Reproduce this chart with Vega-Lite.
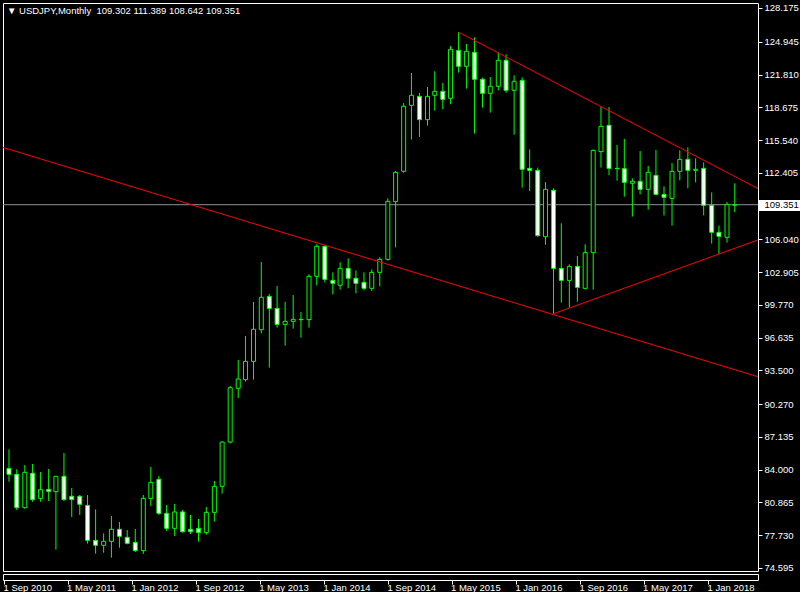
{
  "$schema": "https://vega.github.io/schema/vega-lite/v6.json",
  "background": "black",
  "padding": {"left": 2, "top": 2, "right": 0, "bottom": 0},
  "config": {"view": {"stroke": "white", "strokeWidth": 1}, "font": "Liberation Sans", "axis": {"labelOverlap": false, "labelFlush": false, "labelBound": false}},
  "datasets": {
    "candles": [
      {"d":"2010-09-01","o":84.12,"h":85.94,"l":82.85,"c":83.55},
      {"d":"2010-10-01","o":83.55,"h":84.03,"l":80.14,"c":80.36},
      {"d":"2010-11-01","o":80.36,"h":84.44,"l":80.26,"c":83.74},
      {"d":"2010-12-01","o":83.65,"h":84.54,"l":80.93,"c":81.13},
      {"d":"2011-01-01","o":81.25,"h":83.77,"l":80.93,"c":82.08},
      {"d":"2011-02-01","o":82.11,"h":84.06,"l":81.0,"c":81.92},
      {"d":"2011-03-01","o":81.89,"h":83.4,"l":76.34,"c":83.36},
      {"d":"2011-04-01","o":83.36,"h":85.59,"l":81.0,"c":81.13},
      {"d":"2011-05-01","o":81.45,"h":82.24,"l":79.47,"c":81.13},
      {"d":"2011-06-01","o":81.45,"h":81.57,"l":79.66,"c":80.68},
      {"d":"2011-07-01","o":80.58,"h":81.57,"l":76.92,"c":77.23},
      {"d":"2011-08-01","o":77.23,"h":80.2,"l":75.96,"c":76.76},
      {"d":"2011-09-01","o":76.76,"h":77.9,"l":76.05,"c":77.14},
      {"d":"2011-10-01","o":77.14,"h":79.56,"l":75.58,"c":78.29},
      {"d":"2011-11-01","o":78.29,"h":78.99,"l":76.53,"c":77.62},
      {"d":"2011-12-01","o":77.52,"h":78.22,"l":76.85,"c":76.95},
      {"d":"2012-01-01","o":77.04,"h":78.32,"l":76.12,"c":76.25},
      {"d":"2012-02-01","o":76.25,"h":81.57,"l":75.93,"c":81.25},
      {"d":"2012-03-01","o":81.25,"h":84.25,"l":80.52,"c":82.78},
      {"d":"2012-04-01","o":83.07,"h":83.39,"l":79.66,"c":79.82},
      {"d":"2012-05-01","o":79.82,"h":80.62,"l":78.13,"c":78.38},
      {"d":"2012-06-01","o":78.38,"h":80.71,"l":77.65,"c":79.95},
      {"d":"2012-07-01","o":79.95,"h":80.14,"l":77.97,"c":78.06},
      {"d":"2012-08-01","o":78.29,"h":79.66,"l":77.84,"c":78.06},
      {"d":"2012-09-01","o":78.38,"h":79.28,"l":77.11,"c":77.97},
      {"d":"2012-10-01","o":77.97,"h":80.42,"l":77.78,"c":79.91},
      {"d":"2012-11-01","o":79.91,"h":82.91,"l":79.02,"c":82.4},
      {"d":"2012-12-01","o":82.4,"h":86.7,"l":81.7,"c":86.64},
      {"d":"2013-01-01","o":86.64,"h":92.0,"l":86.5,"c":91.84},
      {"d":"2013-02-01","o":91.78,"h":94.49,"l":90.85,"c":92.67},
      {"d":"2013-03-01","o":92.61,"h":96.79,"l":92.42,"c":94.36},
      {"d":"2013-04-01","o":94.36,"h":100.04,"l":92.61,"c":97.43},
      {"d":"2013-05-01","o":97.39,"h":103.87,"l":97.04,"c":100.49},
      {"d":"2013-06-01","o":100.58,"h":100.81,"l":93.76,"c":99.43},
      {"d":"2013-07-01","o":99.43,"h":101.57,"l":97.58,"c":97.9},
      {"d":"2013-08-01","o":97.9,"h":100.04,"l":95.86,"c":98.19},
      {"d":"2013-09-01","o":98.19,"h":100.71,"l":97.49,"c":98.38},
      {"d":"2013-10-01","o":98.38,"h":99.08,"l":96.63,"c":98.35},
      {"d":"2013-11-01","o":98.35,"h":102.69,"l":97.58,"c":102.5},
      {"d":"2013-12-01","o":102.5,"h":105.56,"l":101.64,"c":105.37},
      {"d":"2014-01-01","o":105.37,"h":105.44,"l":101.92,"c":102.21},
      {"d":"2014-02-01","o":102.11,"h":102.88,"l":100.77,"c":101.83},
      {"d":"2014-03-01","o":101.64,"h":103.84,"l":101.22,"c":103.26},
      {"d":"2014-04-01","o":103.26,"h":104.22,"l":101.35,"c":102.31},
      {"d":"2014-05-01","o":102.31,"h":103.07,"l":100.87,"c":101.83},
      {"d":"2014-06-01","o":101.92,"h":102.88,"l":101.16,"c":101.35},
      {"d":"2014-07-01","o":101.35,"h":103.17,"l":101.1,"c":102.88},
      {"d":"2014-08-01","o":102.88,"h":104.32,"l":101.54,"c":104.12},
      {"d":"2014-09-01","o":104.12,"h":109.96,"l":104.0,"c":109.67},
      {"d":"2014-10-01","o":109.64,"h":112.58,"l":105.27,"c":112.45},
      {"d":"2014-11-01","o":112.55,"h":119.08,"l":112.4,"c":118.77},
      {"d":"2014-12-01","o":118.86,"h":121.96,"l":115.57,"c":119.82},
      {"d":"2015-01-01","o":119.72,"h":120.04,"l":115.83,"c":117.49},
      {"d":"2015-02-01","o":117.49,"h":120.62,"l":116.92,"c":119.72},
      {"d":"2015-03-01","o":119.82,"h":122.12,"l":118.35,"c":120.2},
      {"d":"2015-04-01","o":120.2,"h":121.0,"l":118.48,"c":119.43},
      {"d":"2015-05-01","o":119.53,"h":124.54,"l":118.96,"c":124.22},
      {"d":"2015-06-01","o":124.12,"h":125.86,"l":121.99,"c":122.59},
      {"d":"2015-07-01","o":122.59,"h":124.73,"l":120.46,"c":124.03},
      {"d":"2015-08-01","o":123.93,"h":125.37,"l":116.15,"c":121.35},
      {"d":"2015-09-01","o":121.35,"h":121.51,"l":118.64,"c":120.01},
      {"d":"2015-10-01","o":120.01,"h":121.57,"l":118.16,"c":120.68},
      {"d":"2015-11-01","o":120.68,"h":123.93,"l":120.3,"c":123.17},
      {"d":"2015-12-01","o":123.17,"h":123.74,"l":120.07,"c":120.3},
      {"d":"2016-01-01","o":120.3,"h":121.73,"l":116.05,"c":121.16},
      {"d":"2016-02-01","o":121.25,"h":121.54,"l":110.98,"c":112.74},
      {"d":"2016-03-01","o":112.83,"h":114.65,"l":110.66,"c":112.64},
      {"d":"2016-04-01","o":112.64,"h":112.9,"l":106.29,"c":106.39},
      {"d":"2016-05-01","o":106.29,"h":111.52,"l":105.52,"c":110.82},
      {"d":"2016-06-01","o":110.73,"h":110.92,"l":98.92,"c":103.26},
      {"d":"2016-07-01","o":103.26,"h":107.57,"l":99.98,"c":102.11},
      {"d":"2016-08-01","o":102.11,"h":103.65,"l":99.5,"c":103.45},
      {"d":"2016-09-01","o":103.45,"h":104.44,"l":100.07,"c":101.44},
      {"d":"2016-10-01","o":101.35,"h":105.56,"l":101.25,"c":104.76},
      {"d":"2016-11-01","o":104.76,"h":114.65,"l":101.22,"c":114.55},
      {"d":"2016-12-01","o":114.43,"h":118.7,"l":112.9,"c":116.85},
      {"d":"2017-01-01","o":116.95,"h":118.7,"l":112.16,"c":112.83},
      {"d":"2017-02-01","o":112.83,"h":115.06,"l":111.65,"c":112.8},
      {"d":"2017-03-01","o":112.8,"h":115.64,"l":110.12,"c":111.49},
      {"d":"2017-04-01","o":111.4,"h":111.87,"l":108.21,"c":111.59},
      {"d":"2017-05-01","o":111.59,"h":114.49,"l":110.34,"c":110.82},
      {"d":"2017-06-01","o":110.82,"h":113.06,"l":108.88,"c":112.45},
      {"d":"2017-07-01","o":112.16,"h":114.59,"l":110.25,"c":110.34},
      {"d":"2017-08-01","o":110.34,"h":111.11,"l":108.33,"c":110.06},
      {"d":"2017-09-01","o":109.96,"h":113.34,"l":107.35,"c":112.54},
      {"d":"2017-10-01","o":112.54,"h":114.55,"l":111.68,"c":113.69},
      {"d":"2017-11-01","o":113.69,"h":114.84,"l":110.92,"c":112.64},
      {"d":"2017-12-01","o":112.64,"h":113.79,"l":111.49,"c":112.74},
      {"d":"2018-01-01","o":112.83,"h":113.41,"l":108.33,"c":109.29},
      {"d":"2018-02-01","o":109.29,"h":110.53,"l":105.62,"c":106.71},
      {"d":"2018-03-01","o":106.71,"h":107.37,"l":104.63,"c":106.32},
      {"d":"2018-04-01","o":106.23,"h":109.61,"l":105.72,"c":109.36},
      {"d":"2018-05-01","o":109.302,"h":111.389,"l":108.642,"c":109.351}
    ],
    "lines": [
      {"id":"a","d":"2010-08-01","p":114.887},
      {"id":"a","d":"2018-09-01","p":92.635},
      {"id":"b","d":"2015-06-01","p":125.86},
      {"id":"b","d":"2018-09-01","p":110.457},
      {"id":"c","d":"2016-06-01","p":98.92},
      {"id":"c","d":"2018-09-01","p":106.284}
    ],
    "last": [{"p":109.351}]
  },
  "spacing": 0,
  "resolve": {"scale": {"x": "independent"}},
  "vconcat": [
    {
      "width": 755,
      "height": 568,
      "title": {
        "text": "▼ USDJPY,Monthly\u00a0\u00a0109.302 111.389 108.642 109.351",
        "anchor": "start",
        "frame": "group",
        "orient": "top",
        "offset": -21,
        "dx": 4,
        "baseline": "alphabetic",
        "color": "white",
        "font": "Liberation Sans",
        "fontSize": 9.5,
        "fontWeight": "normal"
      },
      "resolve": {"axis": {"y": "independent"}},
      "layer": [
        {
          "data": {"name": "last"},
          "mark": {"type": "rule", "color": "#8a929a", "strokeWidth": 1},
          "encoding": {
            "y": {"field": "p", "type": "quantitative", "title": null,
              "scale": {"domain": [74.299, 128.653], "zero": false, "nice": false},
              "axis": {"orient": "right", "values": [109.351],
                "labelExpr": "format(datum.value,'.3f')", "grid": false, "domain": false, "title": null,
                "tickColor": "white", "tickSize": 43, "tickWidth": 11,
                "labelColor": "black", "labelPadding": -37,
                "labelFont": "Liberation Sans", "labelFontSize": 9.5}}
          }
        },
        {
          "data": {"name": "candles"},
          "mark": {"type": "rule", "color": "#00ff00", "strokeWidth": 1, "clip": true},
          "encoding": {
            "x": {"field": "d", "type": "temporal", "axis": null,
              "scale": {"type": "utc", "domain": [1282970413440, 1531203696000]}},
            "y": {"field": "l", "type": "quantitative", "title": null, "axis": null},
            "y2": {"field": "h"}
          }
        },
        {
          "data": {"name": "candles"},
          "mark": {"type": "bar", "width": 4, "stroke": "#00ff00", "strokeWidth": 1, "clip": true},
          "encoding": {
            "x": {"field": "d", "type": "temporal", "axis": null},
            "y": {"field": "o", "type": "quantitative", "title": null,
              "axis": {"orient": "right", "values": [128.175,124.945,121.81,118.675,115.54,112.405,106.04,102.905,99.77,96.635,93.5,90.27,87.135,84,80.865,77.73,74.595],
                "labelExpr": "format(datum.value,'.3f')", "grid": false, "domain": false, "title": null,
                "tickColor": "white", "tickSize": 4, "tickWidth": 1,
                "labelColor": "white", "labelPadding": 2,
                "labelFont": "Liberation Sans", "labelFontSize": 9.5}},
            "y2": {"field": "c"},
            "fill": {"condition": {"test": "datum.c > datum.o", "value": "black"}, "value": "white"}
          }
        },
        {
          "data": {"name": "lines"},
          "mark": {"type": "line", "color": "#ff0000", "strokeWidth": 1, "clip": true},
          "encoding": {
            "x": {"field": "d", "type": "temporal", "axis": null},
            "y": {"field": "p", "type": "quantitative", "title": null, "axis": null},
            "detail": {"field": "id"}
          }
        }
      ]
    },
    {
      "width": 755,
      "height": 6,
      "data": {"name": "candles"},
      "mark": {"type": "rule", "opacity": 0},
      "encoding": {
        "x": {"field": "d", "type": "temporal",
          "scale": {"type": "utc", "domain": [1282970413440, 1531203696000]},
          "axis": {
            "values": [
              {"year":2010,"month":9,"date":1,"utc":true},
              {"year":2011,"month":5,"date":1,"utc":true},
              {"year":2012,"month":1,"date":1,"utc":true},
              {"year":2012,"month":9,"date":1,"utc":true},
              {"year":2013,"month":5,"date":1,"utc":true},
              {"year":2014,"month":1,"date":1,"utc":true},
              {"year":2014,"month":9,"date":1,"utc":true},
              {"year":2015,"month":5,"date":1,"utc":true},
              {"year":2016,"month":1,"date":1,"utc":true},
              {"year":2016,"month":9,"date":1,"utc":true},
              {"year":2017,"month":5,"date":1,"utc":true},
              {"year":2018,"month":1,"date":1,"utc":true}
            ],
            "labelExpr": "'1 ' + utcFormat(datum.value, '%b %Y')",
            "grid": false, "domain": false, "title": null,
            "tickColor": "white", "tickSize": 4,
            "labelColor": "white", "labelAlign": "left", "labelPadding": -2, "labelOffset": -1,
            "labelFont": "Liberation Sans", "labelFontSize": 9.5
          }
        }
      }
    }
  ]
}
